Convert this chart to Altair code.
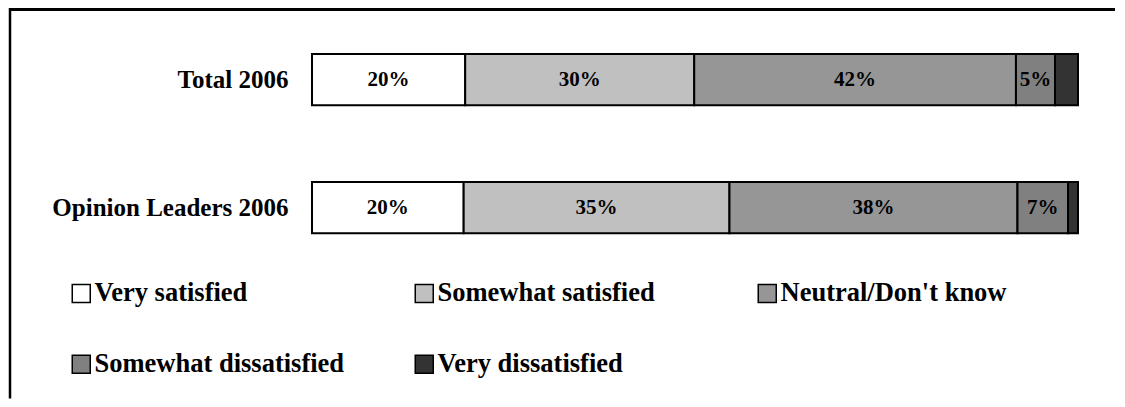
import altair as alt
import pandas as pd

groups = ["Total 2006", "Opinion Leaders 2006"]
categories = ["Very satisfied", "Somewhat satisfied", "Neutral/Don't know",
              "Somewhat dissatisfied", "Very dissatisfied"]
total_2006 = [20.0, 29.9, 42.0, 5.1, 3.0]
opinion_leaders_2006 = [19.8, 34.7, 37.6, 6.6, 1.3]
total_labels = ["20%", "30%", "42%", "5%", ""]
opinion_labels = ["20%", "35%", "38%", "7%", ""]
colors = ["#ffffff", "#c0c0c0", "#969696", "#808080", "#333333"]

rows = []
for g, vals, labs in [(groups[0], total_2006, total_labels),
                      (groups[1], opinion_leaders_2006, opinion_labels)]:
    for i, (c, v, l) in enumerate(zip(categories, vals, labs)):
        rows.append(dict(group=g, category=c, value=v, label=l, order=i))
df = pd.DataFrame(rows)

FONT = "Liberation Serif"

xscale = alt.Scale(domain=[0, 100], nice=False)
y = alt.Y("group:N", sort=groups,
          scale=alt.Scale(paddingInner=0.6, paddingOuter=0.3),
          axis=alt.Axis(title=None, domain=False, ticks=False, labelPadding=24,
                        labelFont=FONT, labelFontSize=25, labelFontWeight="bold",
                        labelColor="black", labelLimit=0))

bars = alt.Chart(df).mark_bar(stroke="black", strokeWidth=2).encode(
    x=alt.X("value:Q", stack="zero", scale=xscale, axis=None),
    y=y,
    color=alt.Color("category:N", scale=alt.Scale(domain=categories, range=colors),
                    legend=alt.Legend(title=None, orient="none", legendX=-244, legendY=264.5,
                                      direction="horizontal",
                                      columns=3, gridAlign="all", columnPadding=66,
                                      rowPadding=44, symbolType="square", symbolSize=324,
                                      symbolStrokeColor="black", symbolStrokeWidth=1.5,
                                      symbolOpacity=1,
                                      labelFont=FONT, labelFontSize=26.5, labelFontWeight="bold",
                                      labelColor="black", labelLimit=0, labelOffset=0,
                                      padding=0)),
    order=alt.Order("order:Q"),
)

text = alt.Chart(df).transform_stack(
    stack="value", groupby=["group"], as_=["x0", "x1"],
    sort=[alt.SortField("order", "ascending")]
).transform_calculate(
    mid="(datum.x0 + datum.x1) / 2"
).mark_text(font=FONT, fontSize=21, fontWeight="bold", color="black").encode(
    x=alt.X("mid:Q", scale=xscale, axis=None),
    y=y,
    text="label:N",
)

one = pd.DataFrame({"k": [0]})
top_line = alt.Chart(one).mark_rule(color="black", strokeWidth=3).encode(
    x=alt.value(-303), x2=alt.value(803), y=alt.value(-6))
left_line = alt.Chart(one).mark_rule(color="black", strokeWidth=2.5).encode(
    x=alt.value(-302), y=alt.value(-7.6), y2=alt.value(383))

chart = alt.layer(bars, text, top_line, left_line).properties(
    width=766, height=256,
    padding={"left": 304, "top": 7.6, "right": 37, "bottom": 127.4},
    autosize=alt.AutoSizeParams(type="none"),
    background="white",
).configure_view(stroke=None)

chart.save("out.html", embed_options={"renderer": "svg", "actions": False})
